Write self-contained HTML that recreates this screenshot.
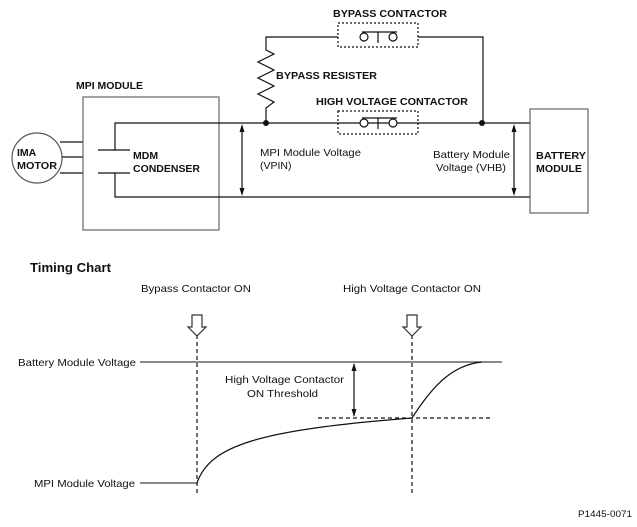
<!DOCTYPE html>
<html><head><style>body{margin:0;background:#fff}svg{display:block}text{font-family:"Liberation Sans",Arial,sans-serif;fill:#111}</style></head>
<body>
<svg width="637" height="527" viewBox="0 0 637 527" xmlns="http://www.w3.org/2000/svg">
<g stroke="#111" stroke-width="1.2" fill="none">
<circle cx="37" cy="158" r="25" stroke="#555"/>
<path d="M60 142H83M62 157H83M60 173H83"/>
<rect x="83" y="97" width="136" height="133" stroke="#666"/>
<path d="M115 150V123H530M98 150H130M98 173H130M115 173V197H530"/>
<path d="M242 126V194M514 126V194M354 364V416"/>
<path d="M266 123V108L274 102L258 94L274 86L258 78L274 70L258 62L274 54L266 50V37H338"/>
<path d="M418 37H483V123"/>
<rect x="338" y="23" width="80" height="24" stroke-dasharray="2,2"/>
<rect x="338" y="111" width="80" height="23" stroke-dasharray="2,2"/>
<g fill="#fff"><circle cx="364" cy="37" r="4"/><circle cx="393" cy="37" r="4"/><circle cx="364" cy="123" r="4"/><circle cx="393" cy="123" r="4"/></g>
<path d="M362 32H397M378 32V43M362 118H397M378 118V129"/>
<rect x="530" y="109" width="58" height="104" stroke="#666"/>
<path d="M140 362H502M140 483H197" stroke="#444"/>
<path d="M197 335V495M412 335V495M318 418H490" stroke-dasharray="4,3"/>
<path d="M197 483C210 445 260 430 412 418C430 390 450 365 482 362"/>
<path d="M192 315H202V327H206L197 336L188 327H192Z" stroke="#333"/>
<path d="M407 315H417V327H421L412 336L403 327H407Z" stroke="#333"/>
</g>
<g fill="#111">
<path d="M242 124L239.5 132H244.5Z M242 196L239.5 188H244.5Z"/>
<path d="M514 124L511.5 132H516.5Z M514 196L511.5 188H516.5Z"/>
<path d="M354 363L351.5 371H356.5Z M354 417L351.5 409H356.5Z"/>
<circle cx="266" cy="123" r="3"/><circle cx="482" cy="123" r="3"/>
</g>
<g font-size="10.5" font-weight="bold">
<text x="76" y="89" textLength="67" lengthAdjust="spacingAndGlyphs">MPI MODULE</text>
<text x="17" y="156">IMA</text><text x="17" y="169" textLength="40" lengthAdjust="spacingAndGlyphs">MOTOR</text>
<text x="133" y="159">MDM</text><text x="133" y="172" textLength="67" lengthAdjust="spacingAndGlyphs">CONDENSER</text>
<text x="333" y="17" textLength="114" lengthAdjust="spacingAndGlyphs">BYPASS CONTACTOR</text>
<text x="276" y="79" textLength="101" lengthAdjust="spacingAndGlyphs">BYPASS RESISTER</text>
<text x="316" y="105" textLength="152" lengthAdjust="spacingAndGlyphs">HIGH VOLTAGE CONTACTOR</text>
<text x="536" y="159" textLength="50" lengthAdjust="spacingAndGlyphs">BATTERY</text><text x="536" y="172" textLength="46" lengthAdjust="spacingAndGlyphs">MODULE</text>
</g>
<g font-size="10.5">
<text x="260" y="156" textLength="101" lengthAdjust="spacingAndGlyphs">MPI Module Voltage</text><text x="260" y="169">(VPIN)</text>
<text x="433" y="158" textLength="77" lengthAdjust="spacingAndGlyphs">Battery Module</text><text x="436" y="171" textLength="70" lengthAdjust="spacingAndGlyphs">Voltage (VHB)</text>
<text x="30" y="272" font-size="13" font-weight="bold" textLength="81" lengthAdjust="spacingAndGlyphs">Timing Chart</text>
<text x="141" y="292" textLength="110" lengthAdjust="spacingAndGlyphs">Bypass Contactor ON</text>
<text x="343" y="292" textLength="138" lengthAdjust="spacingAndGlyphs">High Voltage Contactor ON</text>
<text x="18" y="366" textLength="118" lengthAdjust="spacingAndGlyphs">Battery Module Voltage</text>
<text x="34" y="487" textLength="101" lengthAdjust="spacingAndGlyphs">MPI Module Voltage</text>
<text x="225" y="383" textLength="119" lengthAdjust="spacingAndGlyphs">High Voltage Contactor</text>
<text x="247" y="397" textLength="71" lengthAdjust="spacingAndGlyphs">ON Threshold</text>
<text x="578" y="517" font-size="9" textLength="54" lengthAdjust="spacingAndGlyphs">P1445-0071</text>
</g>
</svg>
</body></html>
